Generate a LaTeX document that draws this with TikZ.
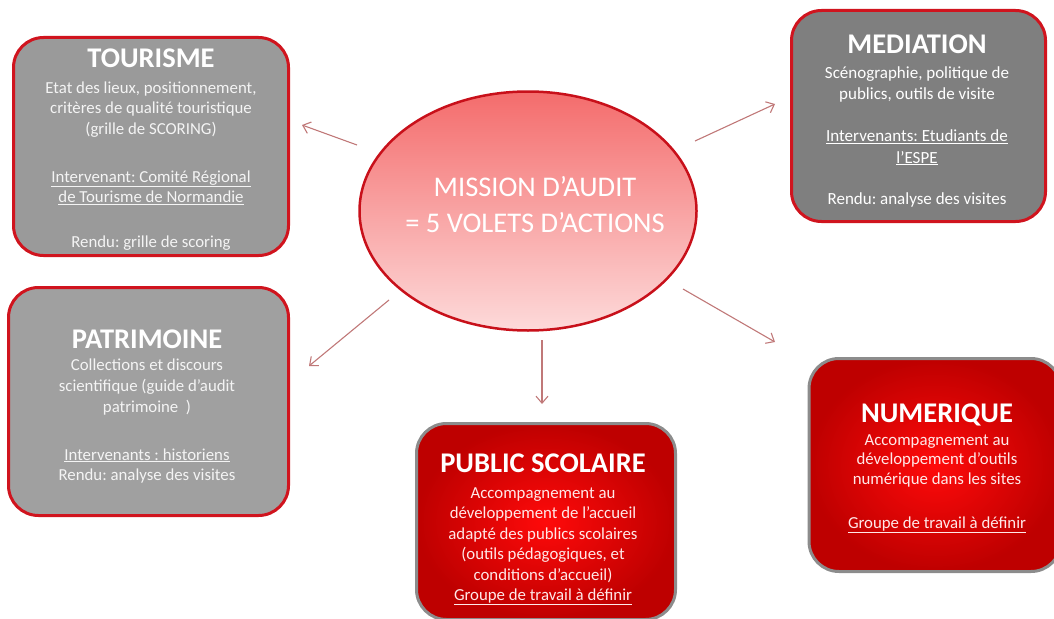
\documentclass[tikz,border=0pt]{standalone}
\usepackage{fontspec}
\setmainfont{Carlito}
\usetikzlibrary{arrows.meta,shapes.geometric}
\definecolor{boxborder}{HTML}{D0141E}
\definecolor{grayA}{HTML}{9A9A9A}
\definecolor{grayB}{HTML}{7F7F7F}
\definecolor{grayC}{HTML}{A0A0A0}
\definecolor{redborder}{HTML}{8C8C8C}
\definecolor{redin}{HTML}{FF0A0A}
\definecolor{redout}{HTML}{BE0000}
\definecolor{elltop}{HTML}{F46C6C}
\definecolor{ellbot}{HTML}{FDDADA}
\definecolor{ellline}{HTML}{C8101A}
\definecolor{arrcol}{HTML}{C07878}
\definecolor{graytext}{HTML}{F4F4F4}
\definecolor{redtext}{HTML}{FFE8E8}
\begin{document}
\frenchspacing
\begin{tikzpicture}[x=1pt,y=-1pt,
  graybox/.style={draw=boxborder, line width=3pt, rounded corners=30pt, inner sep=0pt},
  redbox/.style={draw=redborder, line width=3pt, rounded corners=30pt, inner sep=0pt,
     shading=radial, inner color=redin, outer color=redout},
  titletext/.style={font=\fontsize{28.5}{30}\selectfont\bfseries, text=white, inner sep=0pt, anchor=base},
  bodytext/.style={font=\fontsize{16.8}{20.5}\selectfont, inner sep=0pt, anchor=base},
  arr/.style={draw=arrcol, line width=1.1pt, -{Straight Barb[length=7pt,width=12pt]}}
]
\useasboundingbox (0,0) rectangle (1054,618);

% central ellipse
\node[ellipse, draw=ellline, line width=2.5pt, top color=elltop, bottom color=ellbot,
      minimum width=337pt, minimum height=239pt] (mission) at (528,211) {};
\node[font=\fontsize{28.5}{36}\selectfont, text=white, inner sep=0pt, anchor=base] (missionT) at (535,196)
  {\begin{tabular}[t]{@{}c@{}}MISSION D’AUDIT\\= 5 VOLETS D’ACTIONS\end{tabular}};

% TOURISME
\node[graybox, fill=grayA, minimum width=275pt, minimum height=218pt] (tour) at (151,146.5) {};
\node[titletext] (tourT) at (151,67) {TOURISME};
\node[bodytext, text=graytext] (tourB) at (151,93)
  {\begin{tabular}[t]{@{}c@{}}Etat des lieux, positionnement,\\critères de qualité touristique\\(grille de SCORING)\\[27.5pt]
   \underline{Intervenant: Comité Régional}\\\underline{de Tourisme de Normandie}\\[24pt]
   Rendu: grille de scoring\end{tabular}};

% MEDIATION
\node[graybox, fill=grayB, minimum width=254pt, minimum height=211pt] (medi) at (918.5,116) {};
\node[titletext] (mediT) at (917,53) {MEDIATION};
\node[bodytext, text=white, font=\fontsize{17}{21.5}\selectfont] (mediB) at (917,78)
  {\begin{tabular}[t]{@{}c@{}}Scénographie, politique de\\publics, outils de visite\\[20.5pt]
   \underline{Intervenants: Etudiants de}\\\underline{l’ESPE}\\[19.5pt]
   Rendu: analyse des visites\end{tabular}};

% PATRIMOINE
\node[graybox, fill=grayC, minimum width=280pt, minimum height=228pt] (patr) at (148.5,401.5) {};
\node[titletext] (patrT) at (147,348) {PATRIMOINE};
\node[bodytext, text=graytext, font=\fontsize{16.8}{21}\selectfont] (patrB) at (147,370)
  {\begin{tabular}[t]{@{}c@{}}Collections et discours\\scientifique (guide d’audit\\patrimoine~ )\\[27pt]
   \underline{Intervenants : historiens}\\[-1pt]Rendu: analyse des visites\end{tabular}};

% PUBLIC SCOLAIRE
\node[redbox, minimum width=259pt, minimum height=196pt] (publ) at (546,521.5) {};
\node[titletext] (publT) at (543,472) {PUBLIC SCOLAIRE};
\node[bodytext, text=redtext] (publB) at (543,498)
  {\begin{tabular}[t]{@{}c@{}}Accompagnement au\\développement de l’accueil\\adapté des publics scolaires\\(outils pédagogiques, et\\conditions d’accueil)\\
   \underline{Groupe de travail à définir}\end{tabular}};

% NUMERIQUE
\node[redbox, minimum width=252pt, minimum height=213pt] (nume) at (935,465) {};
\node[titletext] (numeT) at (937,422) {NUMERIQUE};
\node[bodytext, text=redtext, font=\fontsize{16.8}{19.5}\selectfont] (numeB) at (937,445)
  {\begin{tabular}[t]{@{}c@{}}Accompagnement au\\développement d’outils\\numérique dans les sites\\[24.5pt]
   \underline{Groupe de travail à définir}\end{tabular}};

% arrows
\coordinate (s1) at (357,145); \coordinate (e1) at (302,125);
\coordinate (s2) at (695,141); \coordinate (e2) at (775,104);
\coordinate (s3) at (389,300); \coordinate (e3) at (309,366);
\coordinate (s4) at (542,340); \coordinate (e4) at (542,404);
\coordinate (s5) at (683,289); \coordinate (e5) at (775,342);
\draw[arr] (s1) -- (e1);
\draw[arr] (s2) -- (e2);
\draw[arr] (s3) -- (e3);
\draw[arr] (s4) -- (e4);
\draw[arr] (s5) -- (e5);
\end{tikzpicture}
\end{document}
